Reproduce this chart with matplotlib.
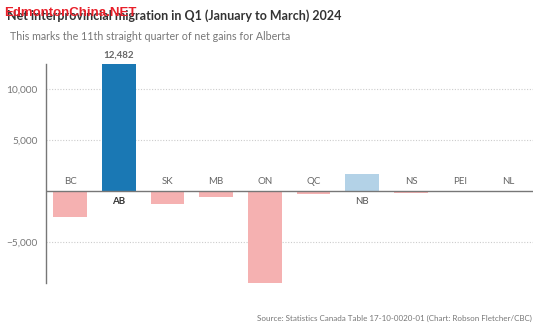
"""Net interprovincial migration by province, Q1 2024."""

import matplotlib
matplotlib.use("Agg")
from matplotlib import pyplot as plt
from matplotlib import font_manager

provinces = ["BC", "AB", "SK", "MB", "ON", "QC", "NB", "NS", "PEI", "NL"]
net_migration = [-2600, 12482, -1250, -560, -9050, -300, 1680, -230, -20, -10]
yticks = [-5000, 5000, 10000]
ytick_labels = ["\u22125,000", "5,000", "10,000"]

FONT = ["Lato", "DejaVu Sans"]


def bar_color(name, value):
    if name == "AB":
        return "#1a78b4"
    if value > 0:
        return "#b3d2e7"
    return "#f5b1b1"


def narrow_family():
    names = {f.name for f in font_manager.fontManager.ttflist}
    for name in ["Liberation Sans Narrow", "DejaVu Sans Condensed"]:
        if name in names:
            return name
    return "Liberation Sans"


def main():
    plt.rcParams["font.family"] = FONT
    fig = plt.figure(figsize=(5.56, 3.32), dpi=100)
    ax = fig.add_axes([45.7 / 556, 1 - 283 / 332, 487 / 556, (283 - 64) / 332])

    x = range(len(provinces))
    colors = [bar_color(p, v) for p, v in zip(provinces, net_migration)]
    ax.bar(x, net_migration, width=0.69, color=colors, zorder=2)

    ax.set_xlim(-0.5, len(provinces) - 0.5)
    ax.set_ylim(min(net_migration), max(net_migration))

    ax.set_yticks(yticks)
    ax.set_yticklabels(ytick_labels, color="#777777", fontsize=7.3)
    ax.tick_params(axis="y", length=0, pad=6)
    ax.set_xticks([])
    for t in yticks:
        ax.axhline(t, color="#cccccc", linestyle=(0, (1, 1.5)), linewidth=0.8, zorder=1)
    ax.axhline(0, color="#777777", linewidth=1.0, zorder=3)

    for side in ["top", "right", "bottom"]:
        ax.spines[side].set_visible(False)
    ax.spines["left"].set_color("#777777")
    ax.spines["left"].set_linewidth(1.0)

    # province names sit on the opposite side of the bar
    for i, (p, v) in enumerate(zip(provinces, net_migration)):
        if v > 0:
            ax.annotate(p, (i, 0), xytext=(0, -4), textcoords="offset points",
                        ha="center", va="top", fontsize=7,
                        color="#333333" if p == "AB" else "#555555",
                        fontweight="bold" if p == "AB" else "normal")
        else:
            ax.annotate(p, (i, 0), xytext=(0, 3.5), textcoords="offset points",
                        ha="center", va="bottom", fontsize=7, color="#666666")

    ab = provinces.index("AB")
    ax.annotate(f"{net_migration[ab]:,}", (ab, net_migration[ab]), xytext=(0, 3),
                textcoords="offset points", ha="center", va="bottom",
                fontsize=7, fontweight="bold", color="#666666")

    fig.text(7 / 556, 1 - 16 / 332,
             "Net interprovincial migration in Q1 (January to March) 2024",
             fontsize=9, fontweight="bold", color="#333333", va="center")
    fig.text(10 / 556, 1 - 37 / 332,
             "This marks the 11th straight quarter of net gains for Alberta",
             fontsize=7.7, color="#777777", va="center")
    fig.text(532 / 556, 1 - 318 / 332,
             "Source: Statistics Canada Table 17-10-0020-01 (Chart: Robson Fletcher/CBC)",
             fontsize=5.8, color="#777777", ha="right", va="center")

    # site watermark over the title
    fig.text(4 / 556, 1 - 13 / 332, "EdmontonChina.NET", family=narrow_family(),
             fontsize=9.5, fontweight="bold", color="#e8202a", va="center")

    fig.savefig("out.png", dpi=100)


if __name__ == "__main__":
    main()
